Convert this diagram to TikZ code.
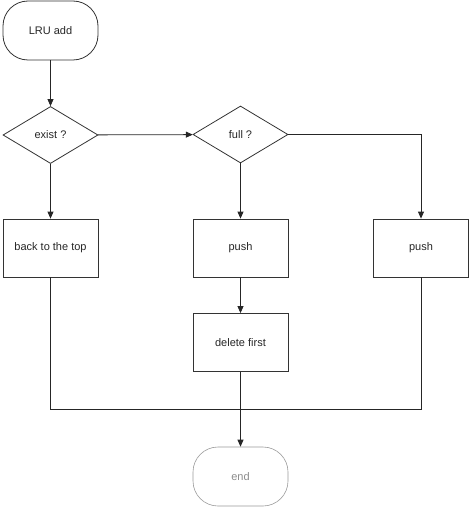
\documentclass[tikz,border=0pt]{standalone}
\usepackage{fontspec}
\setmainfont{Liberation Sans}
\usetikzlibrary{shapes.geometric,arrows.meta}
\begin{document}
\begin{tikzpicture}[x=1pt,y=-1pt,
  every node/.style={font=\fontsize{11}{13}\selectfont, text=black!85},
  term/.style={draw=black!80, line width=0.8pt, rectangle, rounded corners=25pt, minimum width=95pt, minimum height=59pt, inner sep=0pt},
  dec/.style={draw=black!80, line width=0.8pt, diamond, aspect=1.667, minimum width=95pt, minimum height=57pt, inner sep=0pt},
  proc/.style={draw=black!80, line width=0.8pt, rectangle, minimum width=95pt, minimum height=58pt, inner sep=0pt},
  arr/.style={draw=black!85, line width=0.8pt, -{Triangle[length=7pt,width=6pt]}},
  ln/.style={draw=black!85, line width=0.8pt}]
\useasboundingbox (0,0) rectangle (472,508);
\node[term] (lru) at (50.5,30.5) {LRU add};
\node[dec] (exist) at (50.5,135) {exist ?};
\node[dec] (full) at (240.5,134.5) {full ?};
\node[proc] (back) at (50.5,248) {back to the top};
\node[proc] (push1) at (240.5,248) {push};
\node[proc] (push2) at (421,248) {push};
\node[proc] (del) at (240.5,342.5) {delete first};
\node[term, draw=black!40, line width=0.6pt, text=black!45] (end) at (240.5,476.5) {end};
\coordinate (c1) at (421,134.5);
\coordinate (bl) at (50.5,409);
\coordinate (br) at (421,409);
\draw[arr] (lru) -- (exist);
\draw[arr] (exist) -- (full);
\draw[arr] (exist) -- (back);
\draw[arr] (full) -- (push1);
\draw[arr] (full.east) -- (c1) -- (push2.north);
\draw[arr] (push1) -- (del);
\draw[arr] (del) -- (end);
\draw[ln] (back.south) -- (bl) -- (br) -- (push2.south);
\end{tikzpicture}
\end{document}
